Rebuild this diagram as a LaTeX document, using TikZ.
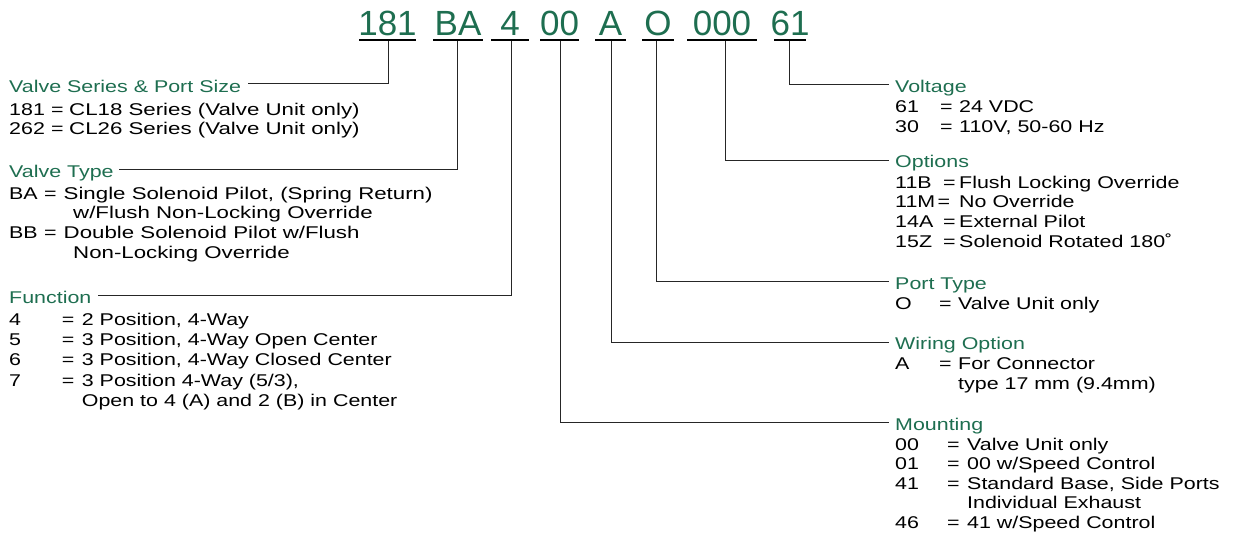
\documentclass[tikz,border=0pt]{standalone}
\usepackage{fontspec}
\setmainfont{Liberation Sans}
\newfontfamily\bodyfont[FakeStretch=1.26]{Liberation Sans}
\newfontfamily\widefont[FakeStretch=1.31]{Liberation Sans}
\definecolor{codegreen}{RGB}{30,110,80}
\newcommand{\vrow}[7]{%
  \node[txt] (#1c) at (#2,#5) {#6};
  \node[txt] (#1e) at (#3,#5) {=};
  \node[txt] (#1t) at (#4,#5) {#7};}
\begin{document}
\begin{tikzpicture}[x=1pt,y=-1pt,
  txt/.style={anchor=base west,inner sep=0pt,font=\bodyfont\fontsize{17}{20}\selectfont,text=black},
  wtxt/.style={txt,font=\widefont\fontsize{17}{20}\selectfont},
  head/.style={txt,text=codegreen},
  code/.style={anchor=base,inner sep=0pt,font=\fontsize{35}{40}\selectfont,text=codegreen},
  uline/.style={line width=2pt,black},
  conn/.style={line width=0.9pt,black!85}]
\useasboundingbox (0,0) rectangle (1233,533);

% ---- code tokens ----
\node[code] (c181) at (387.5,35) {181};
\node[code] (cBA)  at (458,35)   {BA};
\node[code] (c4)   at (510,35)   {4};
\node[code] (c00)  at (559.5,35) {00};
\node[code] (cA)   at (610.5,35) {A};
\node[code] (cO)   at (658,35)   {O};
\node[code] (c000) at (722,35)   {000};
\node[code] (c61)  at (790,35)   {61};

\draw[uline] (359,40) -- (416,40);
\draw[uline] (433,40) -- (483,40);
\draw[uline] (491,40) -- (529,40);
\draw[uline] (540,40) -- (579,40);
\draw[uline] (595,40) -- (626,40);
\draw[uline] (642,40) -- (674,40);
\draw[uline] (687,40) -- (757,40);
\draw[uline] (774,40) -- (806,40);

\coordinate (u181) at (388,41);
\coordinate (uBA)  at (457.5,41);
\coordinate (u4)   at (511,41);
\coordinate (u00)  at (560,41);
\coordinate (uA)   at (611,41);
\coordinate (uO)   at (656,41);
\coordinate (u000) at (725,41);
\coordinate (u61)  at (789,41);

% ---- left: Valve Series ----
\node[head] (hVS) at (9,92) {Valve Series \& Port Size};
\node[txt] (vsac) at (9,115.5) {181};
\node[txt] (vsae) at (51,115.5) {=};
\node[wtxt] (vsat) at (69,115.5) {CL18 Series (Valve Unit only)};
\node[txt] (vsbc) at (9,134.5) {262};
\node[txt] (vsbe) at (51,134.5) {=};
\node[wtxt] (vsbt) at (69,134.5) {CL26 Series (Valve Unit only)};

% ---- left: Valve Type ----
\node[head] (hVT) at (9,177) {Valve Type};
\node[txt] (vtac) at (9,199) {BA};
\node[txt] (vtae) at (44,199) {=};
\node[wtxt] (vtat) at (63.5,199) {Single Solenoid Pilot, (Spring Return)};
\node[wtxt] (vta2) at (73,218.5) {w/Flush Non-Locking Override};
\node[txt] (vtbc) at (9,238.5) {BB};
\node[txt] (vtbe) at (44,238.5) {=};
\node[wtxt] (vtbt) at (63.5,238.5) {Double Solenoid Pilot w/Flush};
\node[wtxt] (vtb2) at (73,258) {Non-Locking Override};

% ---- left: Function ----
\node[head] (hFn) at (9,303) {Function};
\vrow{fna}{9}{61.7}{81.7}{325.7}{4}{2 Position, 4-Way}
\vrow{fnb}{9}{61.7}{81.7}{345.7}{5}{3 Position, 4-Way Open Center}
\vrow{fnc}{9}{61.7}{81.7}{365.7}{6}{3 Position, 4-Way Closed Center}
\vrow{fnd}{9}{61.7}{81.7}{386}{7}{3 Position 4-Way (5/3),}
\node[txt] (fnd2) at (81.7,406) {Open to 4 (A) and 2 (B) in Center};

% ---- right: Voltage ----
\node[head] (hVo) at (895,92) {Voltage};
\vrow{voa}{895}{940}{959}{112}{61}{24 VDC}
\vrow{vob}{895}{940}{959}{132}{30}{110V, 50-60 Hz}

% ---- right: Options ----
\node[head] (hOp) at (895,167.5) {Options};
\vrow{opa}{895}{943}{959}{188}{11B}{Flush Locking Override}
\vrow{opb}{895}{937.5}{959}{207.7}{11M}{No Override}
\vrow{opc}{895}{943}{959}{227.3}{14A}{External Pilot}
\vrow{opd}{895}{943}{959}{247.5}{15Z}{Solenoid Rotated 180˚}

% ---- right: Port Type ----
\node[head] (hPT) at (895,289) {Port Type};
\vrow{pta}{895}{939}{958}{309}{O}{Valve Unit only}

% ---- right: Wiring Option ----
\node[head] (hWO) at (895,349.5) {Wiring Option};
\vrow{woa}{895}{939}{958}{369}{A}{For Connector}
\node[txt] (woa2) at (958,389) {type 17 mm (9.4mm)};

% ---- right: Mounting ----
\node[head] (hMo) at (895,430) {Mounting};
\vrow{moa}{895}{947}{967}{450}{00}{Valve Unit only}
\vrow{mob}{895}{947}{967}{469.5}{01}{00 w/Speed Control}
\vrow{moc}{895}{947}{967}{489}{41}{Standard Base, Side Ports}
\node[txt] (moc2) at (967,508.5) {Individual Exhaust};
\vrow{mod}{895}{947}{967}{528}{46}{41 w/Speed Control}

% ---- connectors ----
\draw[conn] (u181) |- ([xshift=7pt,yshift=8.5pt]hVS.base east);
\draw[conn] (uBA)  |- ([xshift=5pt,yshift=8pt]hVT.base east);
\draw[conn] (u4)   |- ([xshift=6pt,yshift=8pt]hFn.base east);
\draw[conn] (u61)  |- ([xshift=-6pt,yshift=7.5pt]hVo.base west);
\draw[conn] (u000) |- ([xshift=-6pt,yshift=7.5pt]hOp.base west);
\draw[conn] (uO)   |- ([xshift=-6pt,yshift=8pt]hPT.base west);
\draw[conn] (uA)   |- ([xshift=-6pt,yshift=7.5pt]hWO.base west);
\draw[conn] (u00)  |- ([xshift=-6pt,yshift=8pt]hMo.base west);
\end{tikzpicture}
\end{document}
